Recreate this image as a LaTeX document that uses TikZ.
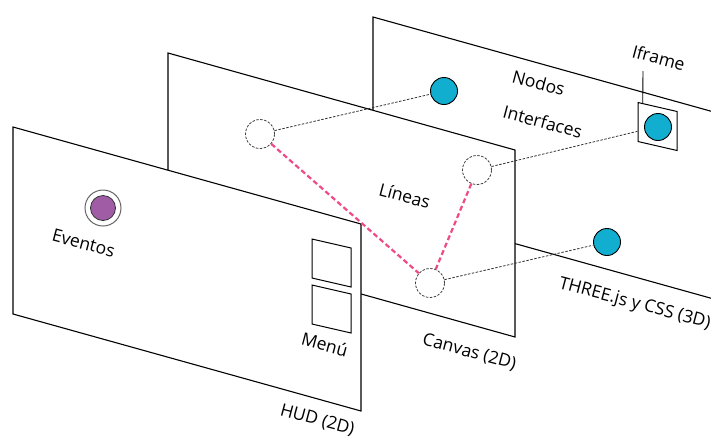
\documentclass[tikz,border=0pt]{standalone}
\usepackage{fontspec}
\setmainfont{Open Sans}
\usetikzlibrary{calc,decorations.text}

\definecolor{nodeblue}{HTML}{12AECF}
\definecolor{evpurple}{HTML}{A05DA5}
\definecolor{linkpink}{HTML}{EE4A87}
\newcommand\lblfont{\fontsize{17.5}{19}\selectfont}

\begin{document}
\begin{tikzpicture}[x=1pt,y=-1pt,
		layer/.style={draw,fill=white,line width=1.1pt},
		bluenode/.style={circle,draw,fill=nodeblue,line width=0.9pt,inner sep=0pt,minimum size=27pt},
		hollow/.style={circle,draw=black!75,fill=white,line width=0.8pt,dash pattern=on 2.5pt off 1.5pt,inner sep=0pt,minimum size=29pt},
		slantbox/.style={draw,line width=1pt,inner sep=0pt,minimum width=39pt,minimum height=39pt,yslant=-0.23},
		link/.style={draw=black!80,line width=0.8pt,dash pattern=on 2.5pt off 1.5pt},
		pinklink/.style={draw=linkpink,line width=2.2pt,dash pattern=on 5pt off 3pt},
		lbl/.style={decorate,decoration={text along path,text align=center,text={|\lblfont|#1}}},
		lblleft/.style={decorate,decoration={text along path,text align=left,text={|\lblfont|#1}}}]
	\useasboundingbox (0,0) rectangle (711,437);

	% las tres capas, de atras hacia delante
	\path[layer] (373,17) -- ++(348,97) -- ++(0,187) -- ++(-348,-97) -- cycle;
	\path[layer] (168,53) -- ++(347,97) -- ++(0,187) -- ++(-347,-97) -- cycle;
	\path[layer] (13,127) -- ++(348,97) -- ++(0,187) -- ++(-348,-97) -- cycle;

	% HUD
	\node[slantbox] (menu1) at (331.5,263) {};
	\node[slantbox] (menu2) at (331.5,309) {};
	\node[circle,draw=black!60,fill=white,line width=1pt,inner sep=0pt,minimum size=36pt] (evring) at (103,208) {};
	\node[circle,draw=black!80,fill=evpurple,line width=0.8pt,inner sep=0pt,minimum size=25pt] (ev) at (103,208) {};

	% Canvas y THREE.js
	\begin{scope}
		\node[hollow] (l1) at (260,134) {};
		\node[hollow] (l2) at (477,170) {};
		\node[hollow] (l3) at (430,283) {};

		\node[bluenode] (n1) at (444,91) {};
		\node[slantbox] (ifr) at (657.5,126.5) {};
		\node[bluenode] (n2) at (658,127) {};
		\node[bluenode] (n3) at (607,242) {};
	\end{scope}

	\begin{scope}
		\path[link] (l1) -- (n1);
		\path[link] (l2) -- (ifr);
		\path[link] (l3) -- (n3);
		\path[pinklink] (l1) -- (l3);
		\path[pinklink] (l2) -- (l3);
	\end{scope}

	% textos, inclinados como las capas
	\path[lbl=Eventos] (-15,223) -- (179,275);
	\path[lbl=Menú] (226,325) -- (420,377);
	\path[lbl=HUD (2D)] (219,399) -- (413,451);
	\path[lbl=Líneas] (306,176) -- (500,228);
	\path[lbl=Canvas (2D)] (371,331) -- (565,383);
	\path[lbl=Nodos] (440,63) -- (634,115);
	\path[lbl=Interfaces] (444,102) -- (638,154);
	\path[lbl=Iframe] (560,38) -- (754,90);
	\path[lblleft=THREE.js y CSS (3D)] (558,288) -- (752,340);

	\coordinate (tag) at (643,71);
	\draw[line width=0.9pt] (tag) -- ($(ifr.north west)!0.13!(ifr.north east)$);
\end{tikzpicture}
\end{document}
